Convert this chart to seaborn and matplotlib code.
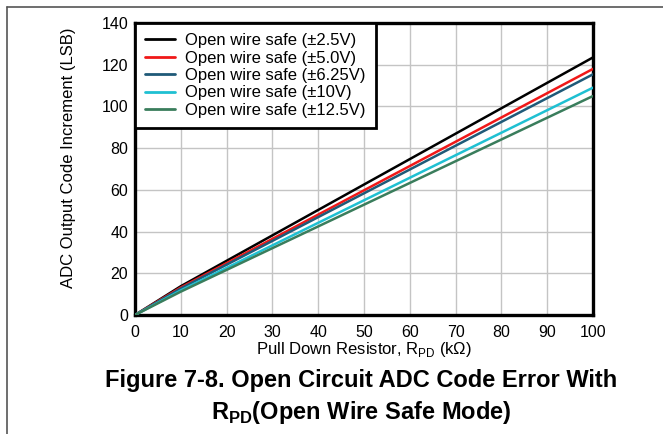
import matplotlib
matplotlib.use("Agg")
import matplotlib.pyplot as plt
from matplotlib.lines import Line2D
import seaborn as sns
import pandas as pd

# ---- data ----
resistor_kohm = [0, 10, 100]
series_labels = [
    "Open wire safe (±2.5V)",
    "Open wire safe (±5.0V)",
    "Open wire safe (±6.25V)",
    "Open wire safe (±10V)",
    "Open wire safe (±12.5V)",
]
code_2p5 = [0, 13.8, 123.5]
code_5p0 = [0, 13.2, 118.0]
code_6p25 = [0, 12.7, 115.4]
code_10 = [0, 11.8, 109.0]
code_12p5 = [0, 11.2, 105.0]
series_colors = ["#000000", "#f01818", "#1f5a78", "#1fc0d2", "#3a7d5c"]
x_ticks = [0, 10, 20, 30, 40, 50, 60, 70, 80, 90, 100]
y_ticks = [0, 20, 40, 60, 80, 100, 120, 140]

rows = []
for lab, vals in zip(series_labels, [code_2p5, code_5p0, code_6p25, code_10, code_12p5]):
    for x, y in zip(resistor_kohm, vals):
        rows.append({"R": x, "code": y, "series": lab})
df = pd.DataFrame(rows)

sns.set_style("white")
plt.rcParams["font.family"] = ["Liberation Sans", "DejaVu Sans"]
plt.rcParams["text.color"] = "black"
plt.rcParams["axes.labelcolor"] = "black"

fig = plt.figure(figsize=(6.63, 4.34), dpi=100)
W, H = 663, 434
ax = fig.add_axes([135 / W, 1 - 315 / H, (593 - 135) / W, (315 - 23) / H])

sns.lineplot(data=df, x="R", y="code", hue="series", hue_order=series_labels,
             palette=series_colors, linewidth=1.8, ax=ax, zorder=3)

ax.set_xlim(0, 100)
ax.set_ylim(0, 140)
ax.set_xticks(x_ticks)
ax.set_yticks(y_ticks)
ax.grid(True, color="#c4c4c4", linewidth=1.0, zorder=0)
ax.tick_params(axis="both", length=0, labelsize=11.5, colors="black")
ax.tick_params(axis="x", pad=7)
ax.tick_params(axis="y", pad=5)
for s in ax.spines.values():
    s.set_color("black")
    s.set_linewidth(2.4)
    s.set_visible(True)

ax.set_xlabel(r"Pull Down Resistor, R$_{\mathregular{PD}}$ (k$\mathregular{\Omega}$)", fontsize=12, labelpad=0)
ax.set_ylabel("ADC Output Code Increment (LSB)", fontsize=12)
ax.yaxis.set_label_coords(-0.128, 0.54)

leg = ax.legend(loc="upper left", borderaxespad=0.0, fontsize=12, frameon=True,
                fancybox=False, handlelength=1.8, handletextpad=0.6,
                labelspacing=0.15, borderpad=0.6)
leg.get_frame().set_edgecolor("black")
leg.get_frame().set_linewidth(2.0)
leg.get_frame().set_alpha(1.0)
leg.set_title(None)
for h in leg.get_lines():
    h.set_linewidth(2.0)

cap_font = ["Liberation Sans", "DejaVu Sans"]
fig.text(361 / W, 1 - 380 / H, "Figure 7-8. Open Circuit ADC Code Error With",
         ha="center", va="center", fontsize=17, fontweight="bold", family=cap_font)
fig.text(361 / W, 1 - 412 / H, r"R$_{\mathregular{PD}}$(Open Wire Safe Mode)",
         ha="center", va="center", fontsize=17, fontweight="bold", family=cap_font)

# page frame lines (left and top)
fig.add_artist(Line2D([7 / W, 7 / W], [0, 1 - 7 / H], color="#555555", linewidth=1.2,
                      transform=fig.transFigure))
fig.add_artist(Line2D([7 / W, 1], [1 - 7 / H, 1 - 7 / H], color="#555555", linewidth=1.2,
                      transform=fig.transFigure))

fig.savefig("out.png", dpi=100)
